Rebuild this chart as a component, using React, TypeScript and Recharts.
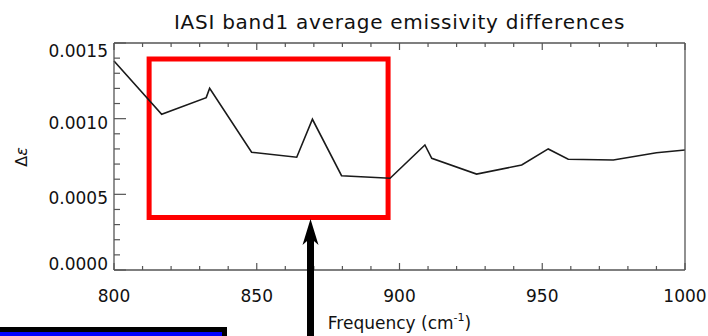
import { LineChart, Line, XAxis, YAxis, ReferenceArea } from 'recharts';

const frequencies = [800, 816.7, 832.3, 833.5, 848.2, 864, 869.5, 879.7, 896.7, 908.9, 911.3, 927, 942.8, 952.1, 959.1, 974.9, 990, 1000];
const deltaE = [0.001381, 0.001029, 0.001139, 0.001201, 0.000778, 0.000745, 0.000996, 0.000623, 0.000606, 0.000826, 0.000738, 0.000634, 0.000694, 0.0008, 0.000732, 0.000727, 0.000775, 0.000793];

const xTicks = [800, 810, 820, 830, 840, 850, 860, 870, 880, 890, 900, 910, 920, 930, 940, 950, 960, 970, 980, 990, 1000];
const xMajor = [800, 850, 900, 950, 1000];
const yTicks = [0, 0.0001, 0.0002, 0.0003, 0.0004, 0.0005, 0.0006, 0.0007, 0.0008, 0.0009, 0.001, 0.0011, 0.0012, 0.0013, 0.0014, 0.0015];
const yMajor = [0, 0.0005, 0.001, 0.0015];

const boxFreq = [812.3, 896.0];
const boxDelta = [0.000347, 0.001394];

const title = 'IASI band1 average emissivity differences';

const data = frequencies.map((f, i) => ({ freq: f, de: deltaE[i] }));

const FONT = '"DejaVu Sans", Verdana, sans-serif';
const AXIS = '#555';
const TEXT = '#111';

const isMajor = (list: number[], v: number) => list.some(m => Math.abs(m - v) < 1e-9);

const BottomTick = (props: any) => {
  const { x, y, payload } = props;
  const major = isMajor(xMajor, payload.value);
  return (
    <g>
      <line x1={x} x2={x} y1={y} y2={y - (major ? 7 : 4)} stroke={AXIS} strokeWidth={1.2} />
      {major && (
        <text x={x} y={y + 32} textAnchor="middle" fontFamily={FONT} fontSize={17} fill={TEXT}>
          {payload.value}
        </text>
      )}
    </g>
  );
};

const TopTick = (props: any) => {
  const { x, y, payload } = props;
  const major = isMajor(xMajor, payload.value);
  return <line x1={x} x2={x} y1={y} y2={y + (major ? 7 : 4)} stroke={AXIS} strokeWidth={1.2} />;
};

const LeftTick = (props: any) => {
  const { x, y, payload } = props;
  const major = isMajor(yMajor, payload.value);
  let dy = 10;
  if (payload.value > 0.00149) dy = 14;
  if (payload.value < 0.00001) dy = 0;
  return (
    <g>
      <line x1={x} x2={x + (major ? 12 : 6)} y1={y} y2={y} stroke={AXIS} strokeWidth={1.2} />
      {major && (
        <text x={x - 6} y={y + dy} textAnchor="end" fontFamily={FONT} fontSize={17} fill={TEXT}>
          {payload.value.toFixed(4)}
        </text>
      )}
    </g>
  );
};

const RightTick = (props: any) => {
  const { x, y, payload } = props;
  const major = isMajor(yMajor, payload.value);
  return <line x1={x} x2={x - (major ? 12 : 6)} y1={y} y2={y} stroke={AXIS} strokeWidth={1.2} />;
};

const XTitle = () => (
  <text x={399.5} y={329} textAnchor="middle" fontFamily={FONT} fontSize={17} fill={TEXT}>
    Frequency (cm
    <tspan fontSize={11} dy={-8}>-1</tspan>
    <tspan dy={8}>)</tspan>
  </text>
);

const YTitle = () => (
  <text
    x={21}
    y={157}
    transform="rotate(-90, 21, 157)"
    textAnchor="middle"
    dominantBaseline="central"
    fontFamily={FONT}
    fontSize={16}
    fill={TEXT}
  >
    Δ<tspan fontStyle="italic">ε</tspan>
  </text>
);

export default function App() {
  return (
    <div style={{ position: 'absolute', left: 0, top: 0, width: 708, height: 336, background: '#fff', overflow: 'hidden' }}>
      <LineChart width={708} height={336} data={data} margin={{ top: 42, right: 22, bottom: 0, left: 0 }}>
        <XAxis
          dataKey="freq"
          type="number"
          domain={[800, 1000]}
          ticks={xTicks}
          interval={0}
          height={66}
          tickSize={0}
          tickMargin={0}
          tick={<BottomTick />}
          axisLine={{ stroke: AXIS, strokeWidth: 1.3 }}
          label={XTitle}
        />
        <XAxis
          xAxisId="top"
          orientation="top"
          dataKey="freq"
          type="number"
          domain={[800, 1000]}
          ticks={xTicks}
          interval={0}
          height={1}
          tickSize={0}
          tickMargin={0}
          tick={<TopTick />}
          axisLine={{ stroke: AXIS, strokeWidth: 1.3 }}
        />
        <YAxis
          type="number"
          domain={[0, 0.0015]}
          ticks={yTicks}
          interval={0}
          width={114}
          tickSize={0}
          tickMargin={0}
          tick={<LeftTick />}
          axisLine={{ stroke: AXIS, strokeWidth: 1.3 }}
          label={YTitle}
        />
        <YAxis
          yAxisId="right"
          orientation="right"
          type="number"
          domain={[0, 0.0015]}
          ticks={yTicks}
          interval={0}
          width={1}
          tickSize={0}
          tickMargin={0}
          tick={<RightTick />}
          axisLine={{ stroke: AXIS, strokeWidth: 1.3 }}
        />
        <Line
          dataKey="de"
          type="linear"
          stroke="#1a1a1a"
          strokeWidth={1.6}
          dot={false}
          isAnimationActive={false}
        />
        <ReferenceArea
          x1={boxFreq[0]}
          x2={boxFreq[1]}
          y1={boxDelta[0]}
          y2={boxDelta[1]}
          fill="none"
          fillOpacity={0}
          stroke="#ff0000"
          strokeWidth={5}
        />
      </LineChart>
      <svg width={708} height={336} style={{ position: 'absolute', left: 0, top: 0, pointerEvents: 'none' }}>
        <text x={399.5} y={29} textAnchor="middle" fontFamily={FONT} fontSize={20} letterSpacing={0.75} fill={TEXT}>
          {title}
        </text>
        <rect x={307} y={236} width={7} height={100} fill="#000" />
        <polygon points="310.5,219 302.5,245 310.5,238 318.5,245" fill="#000" />
        <rect x={0} y={327} width={227} height={9} fill="#000" />
        <rect x={0} y={332} width={222} height={4} fill="#0000ff" />
      </svg>
    </div>
  );
}
